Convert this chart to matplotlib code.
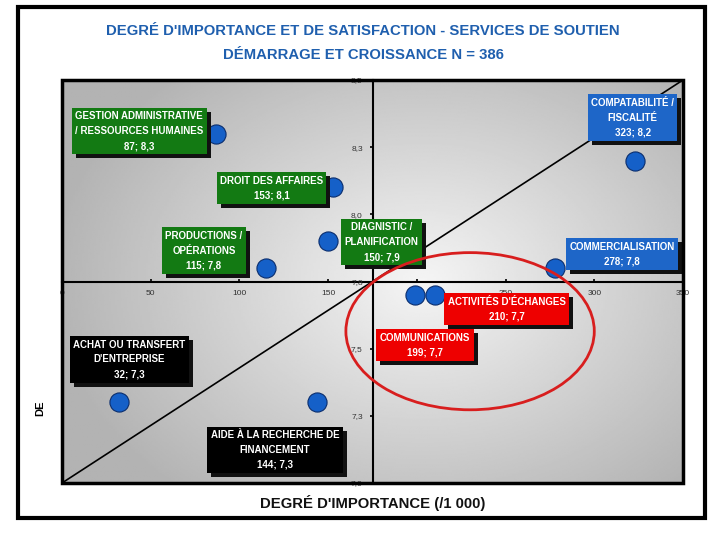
import numpy as np
import matplotlib
matplotlib.use('Agg')
import matplotlib.pyplot as plt
from matplotlib.patches import Ellipse, Rectangle
from matplotlib.transforms import IdentityTransform

plt.rcParams['font.family'] = ['Liberation Sans Narrow', 'Liberation Sans', 'DejaVu Sans']

# Data ------------------------------------------------------------------------
services = [
    'GESTION ADMINISTRATIVE\n/ RESSOURCES HUMAINES',
    'DROIT DES AFFAIRES',
    'PRODUCTIONS /\nOPÉRATIONS',
    'DIAGNISTIC /\nPLANIFICATION',
    'COMPATABILITÉ /\nFISCALITÉ',
    'COMMERCIALISATION',
    "ACTIVITÉS D'ÉCHANGES",
    'COMMUNICATIONS',
    "ACHAT OU TRANSFERT\nD'ENTREPRISE",
    'AIDE À LA RECHERCHE DE\nFINANCEMENT',
]
importance = [87, 153, 115, 150, 323, 278, 210, 199, 32, 144]
satisfaction = [8.3, 8.1, 7.8, 7.9, 8.2, 7.8, 7.7, 7.7, 7.3, 7.3]
groups = ['green', 'green', 'green', 'green', 'blue', 'blue', 'red', 'red', 'black', 'black']

x_ticks = [0, 50, 100, 150, 200, 250, 300, 350]
x_tick_labels = ['0', '50', '100', '150', '200', '250', '300', '350']
y_ticks = [7.0, 7.25, 7.5, 7.75, 8.0, 8.25, 8.5]
y_tick_labels = ['7,0', '7,3', '7,5', '7,8', '8,0', '8,3', '8,5']

# Layout ----------------------------------------------------------------------
x_min, x_max = 0, 350
y_min, y_max = 7.0, 8.5
x_cross, y_cross = 175, 7.75

box_colors = {'green': '#137a13', 'blue': '#1e66c8', 'red': '#ee0000', 'black': '#000000'}
# offset of each label box centre from its point, in pixels
label_offsets = [(-77, 2.5), (-62, -0.5), (-62, 17.5), (53.5, -1), (-2.5, 43),
                 (67, 14), (72, -14), (10, -50), (10.5, 43), (-42.5, -47.5)]

fig = plt.figure(figsize=(7.2, 5.4), dpi=100)
ax = fig.add_axes([62 / 720, 1 - 483 / 540, (683 - 62) / 720, (483 - 80) / 540])

# background gradient
gx, gy = np.meshgrid(np.linspace(0, 1, 300), np.linspace(0, 1, 300))
d = np.sqrt(((gx - 0.58) / 0.7) ** 2 + ((gy - 0.5) / 0.8) ** 2)
grad = np.clip(0.96 - 0.3 * d, 0.7, 0.96)
ax.imshow(grad, extent=[x_min, x_max, y_min, y_max], origin='lower',
          aspect='auto', cmap='gray', vmin=0, vmax=1, zorder=0)

ax.set_xlim(x_min, x_max)
ax.set_ylim(y_min, y_max)

# crossing axes
ax.spines['left'].set_position(('data', x_cross))
ax.spines['bottom'].set_position(('data', y_cross))
ax.spines['top'].set_visible(False)
ax.spines['right'].set_visible(False)
for s in ('left', 'bottom'):
    ax.spines[s].set_linewidth(1.5)
    ax.spines[s].set_zorder(1)
ax.set_xticks(x_ticks)
ax.set_xticklabels(x_tick_labels)
ax.set_yticks(y_ticks)
ax.set_yticklabels(y_tick_labels)
ax.tick_params(axis='both', length=2, width=1.2, labelsize=6,
               labelcolor='#333333')
ax.tick_params(axis='x', direction='in', pad=6)
ax.tick_params(axis='y', pad=5)

# diagonal
ax.plot([x_min, x_max], [y_min, y_max], color='black', lw=1.2, zorder=1)

# red ellipse
ax.add_patch(Ellipse((230, 7.565), 140, 0.585, fill=False,
                     edgecolor='#d81e1e', lw=2, zorder=6))

ax.scatter(importance, satisfaction, s=190, color='#1560c8',
           edgecolor='#0b2e6e', linewidth=0.8, zorder=3)

labels = []
for name, x, y, g, (dx, dy) in zip(services, importance, satisfaction,
                                   groups, label_offsets):
    text = '{}\n{}; {}'.format(name, x, str(y).replace('.', ','))
    ann = ax.annotate(text, xy=(x, y), xytext=(dx, dy),
                      textcoords='offset pixels', ha='center', va='center',
                      fontsize=7, fontweight='bold', linespacing=1.6,
                      color='white', annotation_clip=False, zorder=5,
                      bbox=dict(boxstyle='square,pad=0.35',
                                fc=box_colors[g], ec='none'))
    labels.append(ann)

# drop shadows behind the label boxes
fig.canvas.draw()
renderer = fig.canvas.get_renderer()
for ann in labels:
    bb = ann.get_bbox_patch().get_window_extent(renderer)
    ax.add_patch(Rectangle((bb.x0 + 4, bb.y0 - 4), bb.width, bb.height,
                           transform=IdentityTransform(), fc='#111111',
                           ec='none', zorder=4, clip_on=False))

# plot frame
ax.add_patch(Rectangle((0, 0), 1, 1, transform=ax.transAxes, fill=False,
                       lw=2.5, edgecolor='black', zorder=10, clip_on=False))

# titles and labels
fig.text(363 / 720, 1 - 31 / 540,
         "DEGRÉ D'IMPORTANCE ET DE SATISFACTION - SERVICES DE SOUTIEN",
         ha='center', va='center', fontsize=10.7, fontweight='bold', color='#1f5fae')
fig.text(363 / 720, 1 - 55 / 540, 'DÉMARRAGE ET CROISSANCE N = 386',
         ha='center', va='center', fontsize=10.7, fontweight='bold', color='#1f5fae')
fig.text(373 / 720, 1 - 503 / 540, "DEGRÉ D'IMPORTANCE (/1 000)",
         ha='center', va='center', fontsize=10.7, fontweight='bold', color='#111111')
fig.text(40 / 720, 1 - 408 / 540, 'DE', rotation=90, ha='center',
         va='center', fontsize=8, fontweight='bold', color='black')

fig.add_artist(Rectangle((18 / 720, 1 - 518 / 540), 687 / 720, 511 / 540,
                         transform=fig.transFigure, fill=False, lw=3,
                         edgecolor='black'))

fig.savefig('out.png', dpi=100, facecolor='white')
